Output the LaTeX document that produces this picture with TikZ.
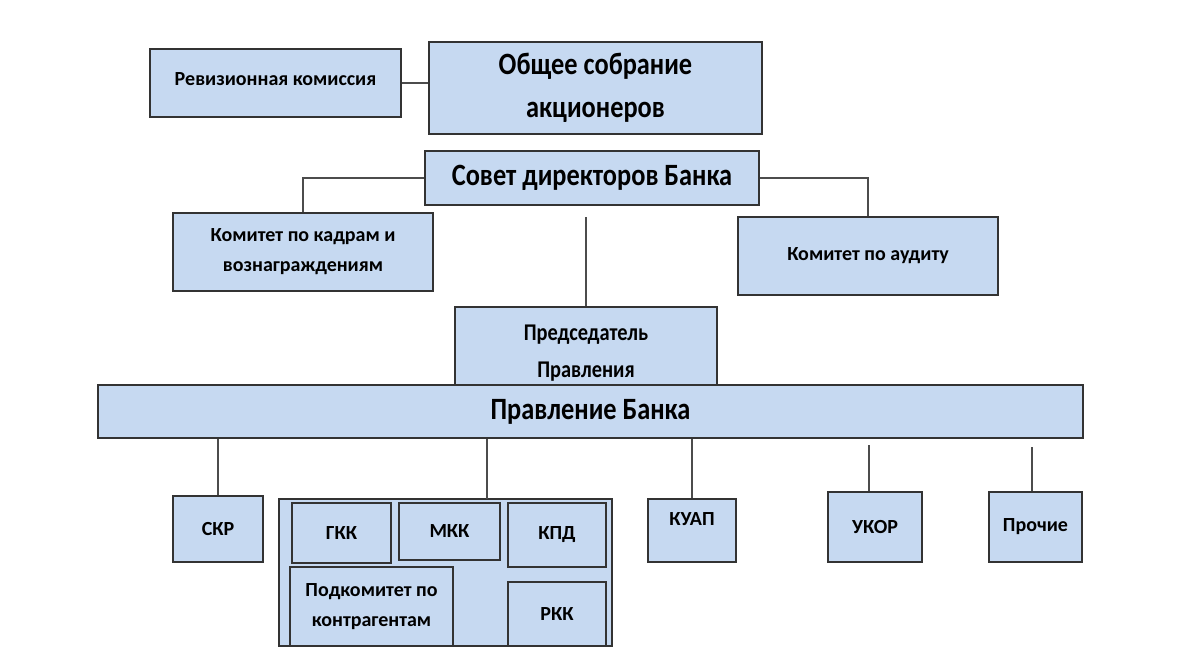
\documentclass[tikz,border=0pt]{standalone}
\usepackage{fontspec}
\setmainfont{Carlito}
\newfontfamily\narrowfont{Carlito}[FakeStretch=0.85]
\definecolor{boxblue}{RGB}{198,217,241}

\begin{document}
\begin{tikzpicture}[x=1pt,y=-1pt,
  box/.style={draw=black!80,fill=boxblue,line width=2.3pt,inner sep=0pt,align=center,font=\bfseries\fontsize{20}{30}\selectfont},
  big box/.style={box,font=\narrowfont\bfseries\fontsize{31}{43}\selectfont},
  mid box/.style={box,font=\narrowfont\bfseries\fontsize{24}{37}\selectfont},
  link/.style={draw=black!70,line width=1.8pt}]
  \useasboundingbox (0,0) rectangle (1200,669);
  % verkhniy uroven'
  \node[box,minimum width=251pt,minimum height=68pt,text depth=8pt] (rev) at (275.5,83) {Ревизионная комиссия};
  \node[big box,minimum width=333pt,minimum height=92pt] (obs) at (595.5,88) {Общее собрание\\акционеров};
  \node[big box,minimum width=334pt,minimum height=54pt] (sov) at (592,178) {Совет директоров Банка};
  \node[box,minimum width=260pt,minimum height=78pt] (kadr) at (303,252) {Комитет по кадрам и\\вознаграждениям};
  \node[box,minimum width=260pt,minimum height=78pt] (audit) at (868,256) {Комитет по аудиту};
  \node[mid box,minimum width=262pt,minimum height=92pt] (pred) at (586,353) {Председатель\\Правления};
  \node[big box,minimum width=985pt,minimum height=53pt] (pravl) at (590.5,411.5) {Правление Банка};
  % komitety pravleniya
  \node[box,minimum width=90pt,minimum height=66pt] (skr) at (218,529) {СКР};
  \node[box,minimum width=333pt,minimum height=147pt] (grp) at (445.5,572.5) {};
  \node[box,minimum width=99pt,minimum height=60pt] (gkk) at (341.5,533) {ГКК};
  \node[box,minimum width=101pt,minimum height=57pt] (mkk) at (449.5,531.5) {МКК};
  \node[box,minimum width=98pt,minimum height=64pt] (kpd) at (557,535) {КПД};
  \node[box,minimum width=163pt,minimum height=79pt] (podk) at (371.5,606.5) {Подкомитет по\\контрагентам};
  \node[box,minimum width=98pt,minimum height=64pt] (rkk) at (557,614) {РКК};
  \node[box,minimum width=88pt,minimum height=63pt,text depth=22pt] (kuap) at (692,530.5) {КУАП};
  \node[box,minimum width=94pt,minimum height=70pt] (ukor) at (875,527) {УКОР};
  \node[box,minimum width=93pt,minimum height=70pt] (proch) at (1035.5,527) {Прочие};
  \coordinate (c1) at (586,217);
  \coordinate (gtop) at (487,499);
  \coordinate (c2) at (869,445);
  \coordinate (c3) at (1032,447);

  \draw[link] (rev.east) -- (rev.east -| obs.west);
  \draw[link] (sov.west) -| (kadr.north);
  \draw[link] (sov.east) -| (audit.north);
  \draw[link] (c1) -- (pred.north);
  \draw[link] (skr.north |- pravl.south) -- (skr.north);
  \draw[link] (gtop |- pravl.south) -- (gtop);
  \draw[link] (kuap.north |- pravl.south) -- (kuap.north);
  \draw[link] (c2) -- (c2 |- ukor.north);
  \draw[link] (c3) -- (c3 |- proch.north);
\end{tikzpicture}
\end{document}
